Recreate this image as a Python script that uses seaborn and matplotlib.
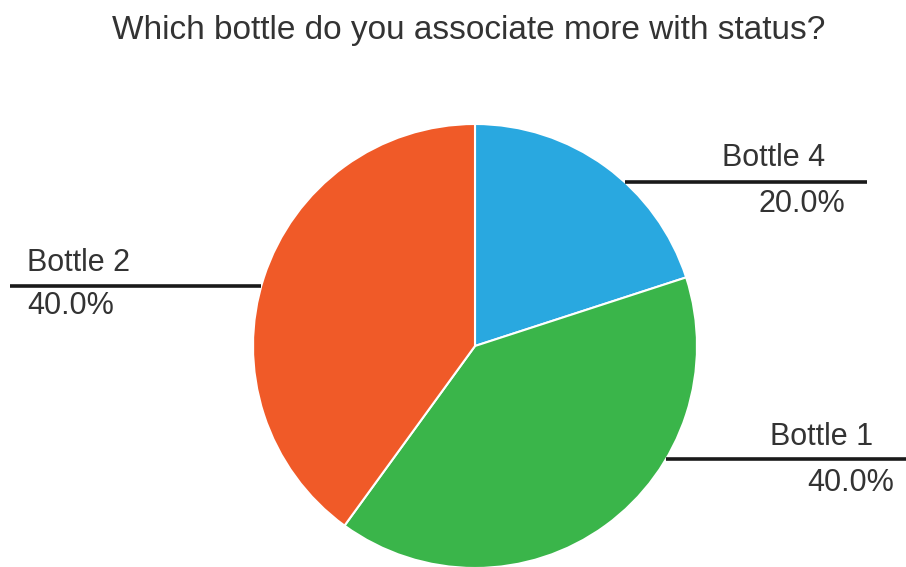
import matplotlib
matplotlib.use("Agg")
import matplotlib.pyplot as plt
import seaborn as sns
import numpy as np

# Survey results
categories = ["Bottle 4", "Bottle 1", "Bottle 2"]
shares = [20.0, 40.0, 40.0]
colors = ["#29A8E0", "#3AB54A", "#F05A28"]
title = "Which bottle do you associate more with status?"

sns.set_theme(style="white")
plt.rcParams["font.family"] = ["Liberation Sans", "DejaVu Sans"]

W, H, DPI = 906, 567, 100
fig = plt.figure(figsize=(W / DPI, H / DPI), dpi=DPI)
ax = fig.add_axes([0, 0, 1, 1])

ax.pie(shares, colors=colors, startangle=90, counterclock=False, radius=1.0,
       wedgeprops=dict(edgecolor="white", linewidth=1.5))

# pie centred at (0, 0) with radius 1; one data unit = 222 px
scale = 222.0
cx, cy = 475.0, 346.0
ax.set_xlim((0 - cx) / scale, (W - cx) / scale)
ax.set_ylim((cy - H) / scale, (cy - 0) / scale)
ax.set_aspect("equal")
ax.axis("off")

def px(x):
    return (x - cx) / scale

def py(y):
    return (cy - y) / scale

# leader lines and labels: (line y, line outer end, name baseline, value baseline, side)
layout = {
    "Bottle 4": (182, 867, (722, 166), (759, 212), 1),
    "Bottle 1": (459, 906, (770, 445), (807, 491), 1),
    "Bottle 2": (286, 10, (27, 271), (27, 314), -1),
}
fs = 22
for name, val in zip(categories, shares):
    ly, lend, (nx, ny), (vx, vy), side = layout[name]
    yy = py(ly)
    xs = side * np.sqrt(max(0.0, 1 - yy ** 2))
    ax.plot([xs, px(lend)], [yy, yy], color="#1a1a1a", lw=2.6,
            solid_capstyle="butt", clip_on=False)
    ax.text(px(nx), py(ny), name, fontsize=fs, color="#333333",
            ha="left", va="baseline")
    ax.text(px(vx), py(vy), f"{val:.1f}%", fontsize=fs, color="#333333",
            ha="left", va="baseline")

fig.text(469 / W, 1 - 39 / H, title, fontsize=24, color="#333333",
         ha="center", va="baseline")

fig.savefig("out.png", dpi=DPI)
